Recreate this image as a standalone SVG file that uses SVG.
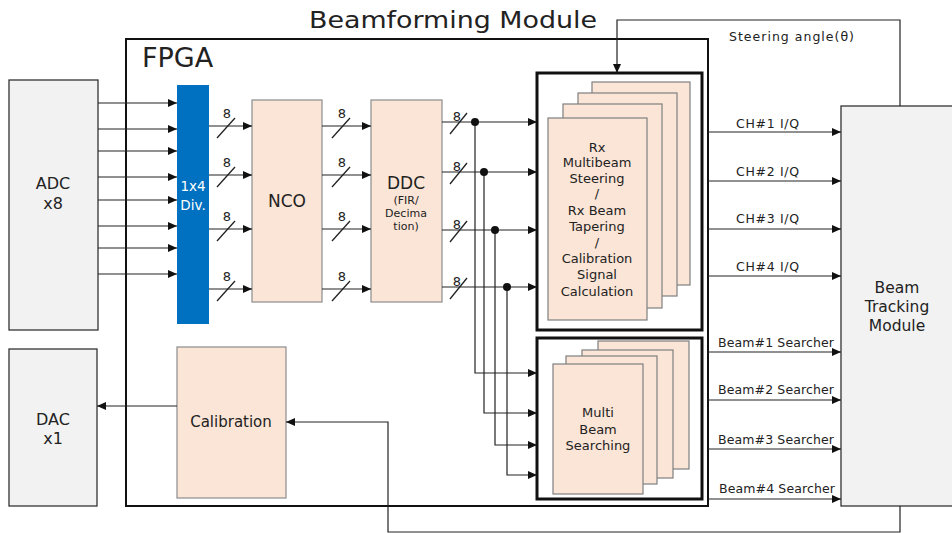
<svg xmlns="http://www.w3.org/2000/svg" width="952" height="533" viewBox="0 0 952 533">
<style>
text{font-family:"DejaVu Sans","Noto Sans",sans-serif;fill:#222;text-anchor:middle}
.ext{fill:#f2f2f2;stroke:#333;stroke-width:1.3}
.blk{fill:#fbe5d6;stroke:#8c8c8c;stroke-width:1.2}
.card{fill:#fbe5d6;stroke:#7f7f7f;stroke-width:1.2}
.frame{fill:#fff;stroke:#111;stroke-width:3}
.arr{fill:none;stroke:#222;stroke-width:1.2;marker-end:url(#ah)}
.sl{stroke:#222;stroke-width:1.3}
.lbl{font-size:12.5px;text-anchor:start}
.n8{font-size:13px}
.ct{font-size:13px}
</style>
<defs>
<marker id="ah" markerUnits="userSpaceOnUse" markerWidth="10" markerHeight="8" refX="9" refY="4" orient="auto">
<path d="M0,0 L9,4 L0,8 Z" fill="#111"/>
</marker>
</defs>
<rect width="952" height="533" fill="#fff"/>

<g id="title"><text x="453" y="28" font-size="23.5" textLength="288" lengthAdjust="spacingAndGlyphs">Beamforming Module</text></g>

<g id="fpga">
<rect x="126" y="39" width="582" height="467" fill="none" stroke="#111" stroke-width="2"/>
<text x="142" y="67" font-size="27" style="text-anchor:start">FPGA</text>
</g>

<g id="adc"><rect class="ext" x="9" y="80" width="89" height="250"/>
<text x="53" y="189" font-size="16">ADC</text><text x="53" y="209" font-size="16">x8</text></g>

<g id="dac"><rect class="ext" x="9" y="349" width="88" height="157"/>
<text x="53" y="425" font-size="16">DAC</text><text x="53" y="444" font-size="16">x1</text></g>

<g id="div"><rect x="177" y="85" width="32" height="239" fill="#0070c0"/>
<text x="193" y="191" font-size="13.5" style="fill:#fff">1x4</text><text x="193" y="210" font-size="13.5" style="fill:#fff">Div.</text></g>

<g id="nco"><rect class="blk" x="252" y="100" width="70" height="202"/>
<text x="287" y="207" font-size="17">NCO</text></g>

<g id="ddc"><rect class="blk" x="371" y="100" width="71" height="202"/>
<text x="406" y="189" font-size="17">DDC</text>
<text x="406" y="204" font-size="11">(FIR/</text>
<text x="406" y="217" font-size="11">Decima</text>
<text x="406" y="230" font-size="11">tion)</text></g>

<g id="calibration"><rect class="blk" x="177" y="347" width="109" height="151"/>
<text x="231" y="427" font-size="15">Calibration</text></g>

<g id="rx-steering">
<rect class="frame" x="537" y="73" width="165" height="257"/>
<rect class="card" x="592" y="82" width="98" height="203"/>
<rect class="card" x="578" y="93" width="99" height="203"/>
<rect class="card" x="563" y="104" width="99" height="204"/>
<rect class="card" x="548" y="118" width="99" height="202"/>
<g class="ct">
<text x="597" y="152">Rx</text>
<text x="597" y="167">Multibeam</text>
<text x="597" y="183">Steering</text>
<text x="597" y="198">/</text>
<text x="597" y="215">Rx Beam</text>
<text x="597" y="231">Tapering</text>
<text x="597" y="247">/</text>
<text x="597" y="263">Calibration</text>
<text x="597" y="279">Signal</text>
<text x="597" y="296">Calculation</text>
</g></g>

<g id="multibeam-search">
<rect class="frame" x="537" y="338" width="165" height="161"/>
<rect class="card" x="598" y="341" width="91" height="128"/>
<rect class="card" x="582" y="350" width="91" height="128"/>
<rect class="card" x="566" y="356" width="91" height="128"/>
<rect class="card" x="553" y="364" width="90" height="130"/>
<g class="ct">
<text x="598" y="417">Multi</text>
<text x="598" y="434">Beam</text>
<text x="598" y="450">Searching</text>
</g></g>

<g id="beam-tracking"><rect class="ext" x="841" y="106" width="120" height="400"/>
<text x="897" y="293" font-size="15.5">Beam</text>
<text x="897" y="312" font-size="15.5">Tracking</text>
<text x="897" y="331" font-size="15.5">Module</text></g>

<g id="connectors">
<path class="arr" d="M98,103H177"/>
<path class="arr" d="M98,129H177"/>
<path class="arr" d="M98,151H177"/>
<path class="arr" d="M98,177H177"/>
<path class="arr" d="M98,200H177"/>
<path class="arr" d="M98,226H177"/>
<path class="arr" d="M98,248H177"/>
<path class="arr" d="M98,274H177"/>

<path class="arr" d="M209,126H252"/>
<path class="arr" d="M209,175H252"/>
<path class="arr" d="M209,229H252"/>
<path class="arr" d="M209,289H252"/>

<path class="arr" d="M322,126H371"/>
<path class="arr" d="M322,175H371"/>
<path class="arr" d="M322,229H371"/>
<path class="arr" d="M322,289H371"/>

<path class="arr" d="M442,122H537"/>
<path class="arr" d="M442,172H537"/>
<path class="arr" d="M442,230H537"/>
<path class="arr" d="M442,287H537"/>

<path class="arr" d="M475,122V373H537"/>
<path class="arr" d="M484,172V413H537"/>
<path class="arr" d="M495,230V445H537"/>
<path class="arr" d="M507,287V475H537"/>
<g fill="#111">
<circle cx="475" cy="122" r="4"/><circle cx="484" cy="172" r="4"/>
<circle cx="495" cy="230" r="4"/><circle cx="507" cy="287" r="4"/>
</g>

<g class="sl">
<line x1="217" y1="138" x2="235" y2="118"/><line x1="217" y1="187" x2="235" y2="167"/>
<line x1="217" y1="241" x2="235" y2="221"/><line x1="217" y1="301" x2="235" y2="281"/>
<line x1="332" y1="138" x2="350" y2="118"/><line x1="332" y1="187" x2="350" y2="167"/>
<line x1="332" y1="241" x2="350" y2="221"/><line x1="332" y1="301" x2="350" y2="281"/>
<line x1="450" y1="134" x2="467" y2="113"/><line x1="450" y1="184" x2="467" y2="163"/>
<line x1="450" y1="242" x2="467" y2="221"/><line x1="450" y1="299" x2="467" y2="278"/>
</g>
<g class="n8">
<text x="227" y="118">8</text><text x="227" y="167">8</text><text x="227" y="221">8</text><text x="227" y="281">8</text>
<text x="342" y="118">8</text><text x="342" y="167">8</text><text x="342" y="221">8</text><text x="342" y="281">8</text>
<text x="457" y="121">8</text><text x="457" y="171">8</text><text x="457" y="229">8</text><text x="457" y="286">8</text>
</g>

<path class="arr" d="M708,132H841"/>
<path class="arr" d="M708,181H841"/>
<path class="arr" d="M708,229H841"/>
<path class="arr" d="M708,276H841"/>
<text class="lbl" x="736" y="128" textLength="63">CH#1 I/Q</text>
<text class="lbl" x="736" y="176" textLength="63">CH#2 I/Q</text>
<text class="lbl" x="736" y="223" textLength="63">CH#3 I/Q</text>
<text class="lbl" x="736" y="271" textLength="63">CH#4 I/Q</text>

<path class="arr" d="M708,352H841"/>
<path class="arr" d="M708,400H841"/>
<path class="arr" d="M708,449H841"/>
<path class="arr" d="M708,499H841"/>
<text class="lbl" x="718" y="347" textLength="116">Beam#1 Searcher</text>
<text class="lbl" x="718" y="394" textLength="116">Beam#2 Searcher</text>
<text class="lbl" x="718" y="444" textLength="116">Beam#3 Searcher</text>
<text class="lbl" x="719" y="493" textLength="116">Beam#4 Searcher</text>

<path class="arr" d="M900,106V20H617V73"/>
<text class="lbl" x="729" y="41" textLength="125">Steering angle(θ)</text>

<path class="arr" d="M900,506V532H388V422H286"/>
<path class="arr" d="M177,406H97"/>
</g>
</svg>
